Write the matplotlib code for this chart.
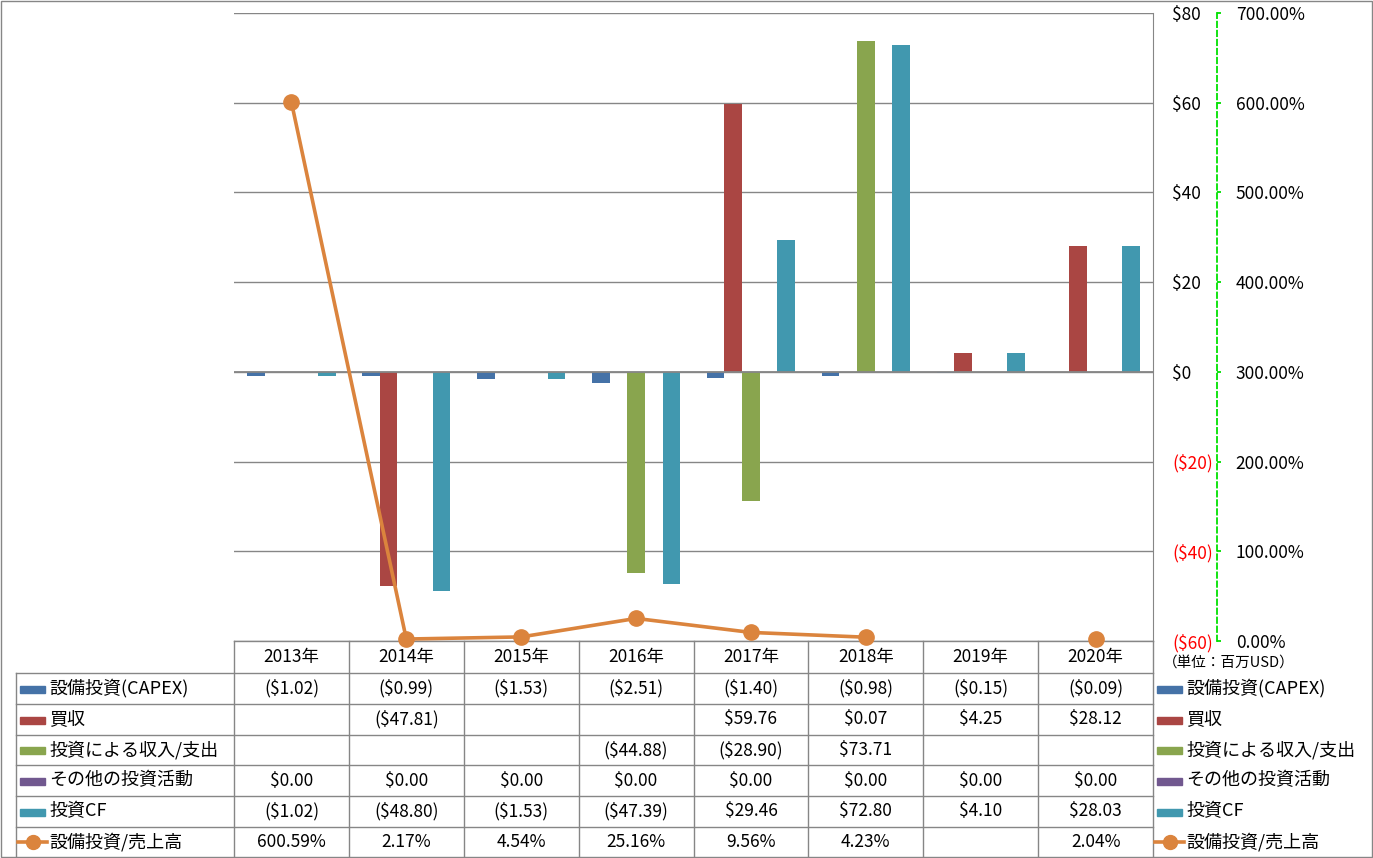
import numpy as np
import matplotlib
matplotlib.use("Agg")
import matplotlib.pyplot as plt
from matplotlib.patches import Rectangle

plt.rcParams['font.family'] = ['Noto Sans CJK JP', 'DejaVu Sans']

years = ["2013年", "2014年", "2015年", "2016年", "2017年", "2018年", "2019年", "2020年"]
series_names = ["設備投資(CAPEX)", "買収", "投資による収入/支出", "その他の投資活動", "投資CF"]
capex = [-1.02, -0.99, -1.53, -2.51, -1.40, -0.98, -0.15, -0.09]
acquisition = [None, -47.81, None, None, 59.76, 0.07, 4.25, 28.12]
inv_income = [None, None, None, -44.88, -28.90, 73.71, None, None]
other_inv = [0.0, 0.0, 0.0, 0.0, 0.0, 0.0, 0.0, 0.0]
inv_cf = [-1.02, -48.80, -1.53, -47.39, 29.46, 72.80, 4.10, 28.03]
line_name = "設備投資/売上高"
capex_ratio = [600.59, 2.17, 4.54, 25.16, 9.56, 4.23, None, 2.04]
y_ticks = [-60, -40, -20, 0, 20, 40, 60, 80]
y2_ticks = [0, 100, 200, 300, 400, 500, 600, 700]
unit_label = "（単位：百万USD）"

colors = ['#4572A7', '#AA4643', '#89A54E', '#71588F', '#4198AF']
line_color = '#DB843D'
grid_c = '#868686'

W, H = 1373, 858
fig = plt.figure(figsize=(W / 100, H / 100), dpi=100)

ov = fig.add_axes([0, 0, 1, 1], zorder=0)
ov.set_xlim(0, W)
ov.set_ylim(H, 0)
ov.axis('off')

px0, px1, py0, py1 = 234, 1153, 13, 641
ax = fig.add_axes([px0 / W, 1 - py1 / H, (px1 - px0) / W, (py1 - py0) / H], zorder=1)
ax.patch.set_alpha(0)

n = len(years)
series = [capex, acquisition, inv_income, other_inv, inv_cf]
bw = 1 / (5 + 1.5)
x = np.arange(n)
for j, s in enumerate(series):
    vals = np.array([np.nan if v is None else v for v in s], dtype=float)
    ax.bar(x + (j - 2) * bw, np.nan_to_num(vals), width=bw, color=colors[j], zorder=2)

ax.set_xlim(-0.5, n - 0.5)
ax.set_ylim(-60, 80)
for t in y_ticks:
    ax.axhline(t, color=grid_c, lw=1, zorder=1)
ax.axhline(0, color=grid_c, lw=1.3, zorder=3)
ax.set_xticks([])
for sp in ['left', 'top', 'bottom']:
    ax.spines[sp].set_visible(False)
ax.spines['right'].set_color(grid_c)

ax2 = ax.twinx()
ax2.set_zorder(2)
ax2.patch.set_alpha(0)

ax.set_yticks(y_ticks)
ax.set_yticklabels([f"(${abs(t)})" if t < 0 else f"${t}" for t in y_ticks])
ax.tick_params(axis='y', left=False, right=False, labelleft=False, labelright=True,
               length=0, pad=14, labelsize=12.5)
for tick, t in zip(ax.yaxis.get_major_ticks(), y_ticks):
    tick.label2.set_color('red' if t < 0 else 'black')

ax2.set_ylim(0, 700)
ax2.set_yticks(y2_ticks)
ax2.set_yticklabels([f"{t:.2f}%" for t in y2_ticks])
ax2.spines['right'].set_position(('axes', (1217 - px0) / (px1 - px0)))
ax2.spines['right'].set_color('#00E000')
ax2.spines['right'].set_linewidth(1.3)
ax2.spines['right'].set_linestyle((0, (3, 2)))
for sp in ['left', 'top', 'bottom']:
    ax2.spines[sp].set_visible(False)
ax2.tick_params(axis='y', length=3, width=1.3, color='#00E000', pad=10.5, labelsize=12.5)
ratio = np.array([np.nan if v is None else v for v in capex_ratio], dtype=float)
ax2.plot(x, ratio, color=line_color, lw=2.6, marker='o', markersize=11,
         clip_on=False, zorder=5)

# data table
tx0, tx1 = px0, px1
cw = (tx1 - tx0) / n
ty = [641, 673, 704, 735, 765, 796, 827, 857]
ov.plot([tx0, tx1], [ty[0], ty[0]], color=grid_c, lw=1)
for yy in ty[1:-1]:
    ov.plot([16, tx1], [yy, yy], color=grid_c, lw=1)
ov.plot([16, 16], [ty[1], ty[-1]], color=grid_c, lw=1)
for i in range(n + 1):
    xx = tx0 + i * cw
    ov.plot([xx, xx], [ty[0], ty[-1]], color=grid_c, lw=1)

def fmt_money(v):
    if v is None:
        return ""
    if v < 0:
        return f"(${abs(v):.2f})"
    return f"${v:.2f}"

for i, yr in enumerate(years):
    ov.text(tx0 + (i + 0.5) * cw, (ty[0] + ty[1]) / 2, yr, ha='center', va='center', fontsize=12.5)

rows = [[fmt_money(v) for v in s] for s in series]
rows.append(["" if v is None else f"{v:.2f}%" for v in capex_ratio])
for r, row in enumerate(rows):
    yc = (ty[r + 1] + ty[r + 2]) / 2
    for i, txt in enumerate(row):
        ov.text(tx0 + (i + 0.5) * cw, yc, txt, ha='center', va='center', fontsize=12.5)

names = series_names + [line_name]
for r, name in enumerate(names):
    yc = (ty[r + 1] + ty[r + 2]) / 2
    for kx, txx in [(20, 49), (1157, 1186)]:
        if r < 5:
            ov.add_patch(Rectangle((kx, yc - 3), 25, 7, color=colors[r]))
        else:
            ov.plot([kx - 2, kx + 27], [yc, yc], color=line_color, lw=2.6)
            ov.plot([kx + 12.5], [yc], marker='o', color=line_color, markersize=10)
        ov.text(txx, yc, name, ha='left', va='center', fontsize=13)

ov.text(1163, 663, unit_label, ha='left', va='center', fontsize=10.5)

ov.add_patch(Rectangle((0.5, 0.5), W - 1.5, H - 1.5, fill=False, edgecolor=grid_c, lw=1))

fig.savefig("out.png", dpi=100)
